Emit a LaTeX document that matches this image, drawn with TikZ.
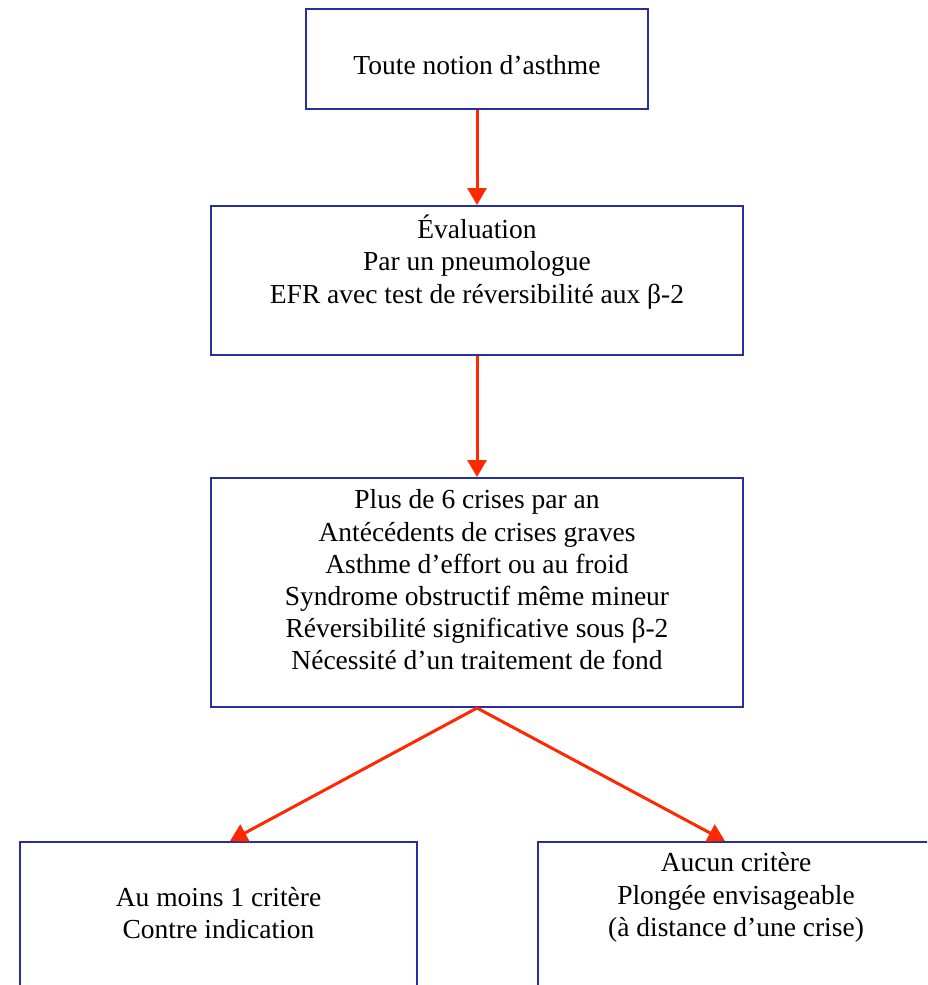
\documentclass[tikz,border=0pt]{standalone}
\usepackage{fontspec}
\setmainfont{Liberation Serif}
\usepackage{xcolor}
\usetikzlibrary{arrows.meta,calc,positioning}
\definecolor{bleu}{RGB}{40,48,160}
\definecolor{rouge}{RGB}{255,40,0}
\tikzset{%
	boite/.style  = {draw=bleu, line width=1pt, rectangle, inner sep=0pt},
	texte/.style  = {align=center, inner sep=0pt, font=\fontsize{13.75}{16.1}\selectfont},
	fleche/.style = {draw=rouge, line width=1.5pt, -{Triangle[length=8.5pt,width=9.5pt]}},
}
\begin{document}
\begin{tikzpicture}[x=0.5pt,y=-0.5pt]
	\useasboundingbox (0,0) rectangle (927,985);
	\clip (0,0) rectangle (927,985);
	
	\node[boite, minimum width=171pt, minimum height=50pt] (notion) at (477,59) {};
	\node[boite, minimum width=266pt, minimum height=74.5pt] (eval) at (477,280.5) {};
	\node[boite, minimum width=266pt, minimum height=114.5pt] (crit) at (477,592.5) {};
	\node[boite, minimum width=198.5pt, minimum height=81.5pt] (contre) at (218.5,923.5) {};
	\node[boite, minimum width=198pt, minimum height=81.5pt] (plongee) at (736,923.5) {};
	
	\node[texte] (tnotion) at (477,65) {Toute notion d’asthme};
	\node[texte] (teval) at (477,262) {Évaluation\\Par un pneumologue\\EFR avec test de réversibilité aux β-2};
	\node[texte] (tcrit) at (477,580) {Plus de 6 crises par an\\Antécédents de crises graves\\Asthme d’effort ou au froid\\Syndrome obstructif même mineur\\Réversibilité significative sous β-2\\Nécessité d’un traitement de fond};
	\node[texte] (tcontre) at (218.5,913) {Au moins 1 critère\\Contre indication};
	\node[texte] (tplongee) at (736,897.5) {Aucun critère\\Plongée envisageable\\(à distance d’une crise)};
	
	\draw[fleche] (notion.south) -- (eval.north);
	\draw[fleche] (eval.south) -- (crit.north);
	\draw[fleche] (crit.south) -- ([xshift=5.75pt]contre.north);
	\draw[fleche] (crit.south) -- ([xshift=-5.5pt]plongee.north);
\end{tikzpicture}
\end{document}
